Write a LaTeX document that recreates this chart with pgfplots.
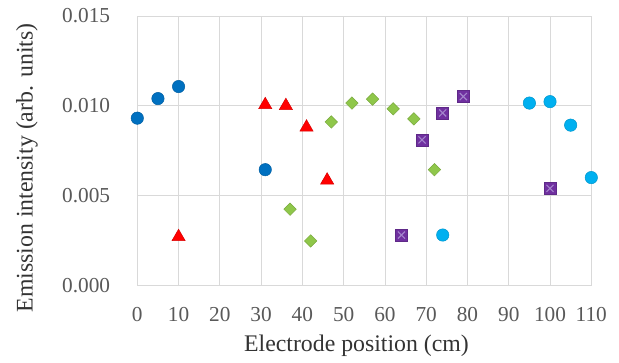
\documentclass[border=0pt]{standalone}
\usepackage{fontspec}
\setmainfont{Liberation Serif}
\usepackage{pgfplots}
\pgfplotsset{compat=1.18}
\definecolor{gridc}{HTML}{D9D9D9}
\definecolor{tickc}{HTML}{595959}
\definecolor{labc}{HTML}{333333}
\definecolor{dblue}{HTML}{0070C0}
\definecolor{mred}{HTML}{FF0000}
\definecolor{mgreen}{HTML}{8FC74A}
\definecolor{mpurple}{HTML}{7030A0}
\definecolor{xpurple}{HTML}{A384CC}
\definecolor{lblue}{HTML}{00B0F0}
\begin{document}
\begin{tikzpicture}
\begin{axis}[
  at={(0,0)}, anchor=south west,
  scale only axis, width=454pt, height=269.3pt,
  xmin=0, xmax=110, ymin=0, ymax=0.015,
  enlargelimits=false, clip=false,
  scaled y ticks=false, scaled x ticks=false,
  xtick={0,10,20,30,40,50,60,70,80,90,100,110},
  xticklabels={0,10,20,30,40,50,60,70,80,90,100,110},
  ytick={0,0.005,0.010,0.015},
  yticklabels={0.000,0.005,0.010,0.015},
  major tick length=0pt,
  grid=major,
  major grid style={gridc, line width=0.8pt},
  axis line style={gridc, line width=0.8pt},
  every tick label/.append style={font=\fontsize{21.3}{24}\selectfont, text=tickc},
  xticklabel style={anchor=north, inner sep=0pt, yshift=-21.4pt},
  yticklabel style={anchor=east, inner sep=0pt, xshift=-27pt},
  xlabel={Electrode position (cm)},
  ylabel={Emission intensity (arb. units)},
  label style={font=\fontsize{23.8}{26}\selectfont, text=labc},
  xlabel style={at={(axis description cs:0.4828,-0.2466)}, anchor=base, inner sep=0pt},
  ylabel style={at={(axis description cs:-0.2308,0.4356)}, anchor=base, inner sep=0pt, rotate=0},
]
\addplot[only marks, mark=*, mark size=6.2pt, mark options={fill=dblue, draw=dblue!85!black, line width=0.5pt}]
  coordinates {(0,0.00931) (5,0.0104) (10,0.01107) (31,0.00644)};
\addplot[only marks, mark=triangle*, mark size=7.6pt, mark options={fill=mred, draw=mred!85!black, line width=0.5pt}]
  coordinates {(10,0.0027) (31,0.01005) (36,0.0100) (41,0.0088) (46,0.00585)};
\addplot[only marks, mark=square*, mark size=4.4pt, mark options={rotate=45, fill=mgreen, draw=mgreen!85!black, line width=0.5pt}]
  coordinates {(37,0.00424) (42,0.00247) (47,0.0091) (52,0.01015) (57,0.01037) (62,0.00983) (67,0.00927) (72,0.00644)};
\addplot[only marks, mark=square*, mark size=6.0pt, mark options={fill=mpurple, draw=mpurple!85!black, line width=0.5pt}]
  coordinates {(64,0.0028) (69,0.0081) (74,0.0096) (79,0.01051) (100,0.0054)};
\addplot[only marks, mark=x, mark size=5.0pt, mark options={draw=xpurple, line width=1.1pt}]
  coordinates {(64,0.0028) (69,0.0081) (74,0.0096) (79,0.01051) (100,0.0054)};
\addplot[only marks, mark=*, mark size=6.2pt, mark options={fill=lblue, draw=lblue!85!black, line width=0.5pt}]
  coordinates {(74,0.0028) (95,0.01015) (100,0.01023) (105,0.00892) (110,0.0060)};
\end{axis}
\pgfresetboundingbox
\path[use as bounding box] (-137.3pt,-76.7pt) rectangle (481.7pt,285.3pt);
\end{tikzpicture}
\end{document}
